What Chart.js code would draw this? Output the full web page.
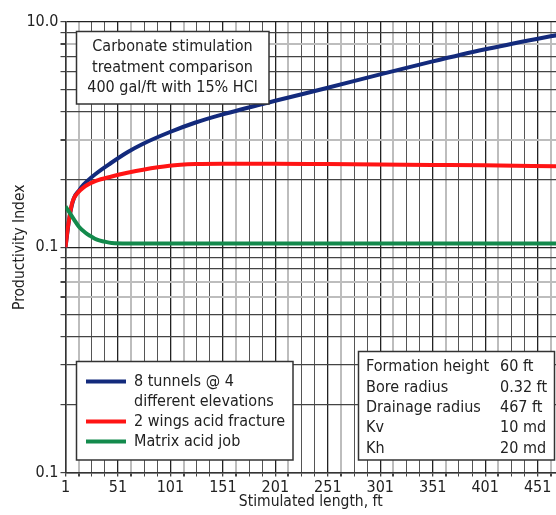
<!DOCTYPE html>
<html>
<head>
<meta charset="utf-8">
<script src="https://cdn.jsdelivr.net/npm/chart.js@4.4.1/dist/chart.umd.min.js"></script>
<style>
  html, body { margin: 0; padding: 0; background: #fff; }
  #wrap { width: 556px; height: 515px; position: relative; }
</style>
</head>
<body>
<div id="wrap"><canvas id="mychart" width="556" height="515"></canvas></div>
<script>
// stimulated length (ft) and productivity index
const tunnelX = [1, 5, 9, 14, 18, 30, 44, 60, 75, 100, 125, 150, 200, 250, 300, 350, 400, 450, 470];
const tunnelY = [1.0, 1.38, 1.65, 1.79, 1.89, 2.12, 2.36, 2.64, 2.88, 3.24, 3.58, 3.88, 4.46, 5.09, 5.84, 6.67, 7.55, 8.41, 8.75];

const fracX = [1, 3, 5, 7, 9, 12, 15, 20, 30, 45, 60, 75, 100, 125, 150, 200, 250, 300, 350, 400, 470];
const fracY = [1.0, 1.2, 1.38, 1.55, 1.65, 1.73, 1.79, 1.87, 1.97, 2.06, 2.14, 2.21, 2.3, 2.34, 2.35, 2.35, 2.34, 2.33, 2.32, 2.31, 2.29];

const matrixX = [1, 5, 9, 14, 20, 25, 31, 38, 45, 60, 100, 200, 300, 400, 470];
const matrixY = [1.52, 1.42, 1.33, 1.23, 1.16, 1.12, 1.08, 1.06, 1.045, 1.04, 1.04, 1.04, 1.04, 1.04, 1.04];

const seriesNames = [['8 tunnels @ 4', 'different elevations'], ['2 wings acid fracture'], ['Matrix acid job']];
const seriesColors = ['#132a7c', '#ff1414', '#138a4c'];

// tick labels as printed on the original (middle decade is printed 0.1)
const yTickValues = [0.1, 1, 10];
const yTickLabels = ['0.1', '0.1', '10.0'];
const yGridValues = [0.1, 0.2, 0.3, 0.4, 0.5, 0.6, 0.7, 0.8, 0.9, 1, 2, 3, 4, 5, 6, 7, 8, 9, 10];
const yGreyLines = [0.6, 0.7, 3, 8];
const xLabelEvery = 50;
const xMinorStep = 12.5;

const titleLines = ['Carbonate stimulation', 'treatment comparison', '400 gal/ft with 15% HCl'];
const infoNames = ['Formation height', 'Bore radius', 'Drainage radius', 'Kv', 'Kh'];
const infoValues = ['60 ft', '0.32 ft', '467 ft', '10 md', '20 md'];

const FONT = "'Liberation Sans Narrow', 'Arial Narrow', 'DejaVu Sans Condensed', sans-serif";
const xMin = 1, xMax = 468.5;

function pts(xs, ys) {
  return xs.map((x, i) => ({ x: x, y: ys[i] }));
}
function isIn(list, v) {
  return list.some((m) => Math.abs(m - v) < 1e-9);
}

// boxes: title, legend and formation data, drawn over the grid
const boxPlugin = {
  id: 'boxes',
  afterDatasetsDraw(chart) {
    const ctx = chart.ctx;
    ctx.save();
    function box(x, y, w, h) {
      ctx.fillStyle = '#fff';
      ctx.fillRect(x, y, w, h);
      ctx.strokeStyle = '#333';
      ctx.lineWidth = 1.5;
      ctx.strokeRect(x, y, w, h);
    }
    ctx.textBaseline = 'middle';

    box(76.5, 31.5, 192.5, 72.5);
    ctx.fillStyle = '#222';
    ctx.font = '16px ' + FONT;
    ctx.textAlign = 'center';
    titleLines.forEach((t, i) => ctx.fillText(t, 172.5, 47 + i * 20.5));

    box(76.5, 361.5, 216.5, 98.5);
    let ly = 381.5;
    seriesNames.forEach((lines, i) => {
      ctx.strokeStyle = seriesColors[i];
      ctx.lineWidth = 4;
      ctx.beginPath();
      ctx.moveTo(86, ly);
      ctx.lineTo(126, ly);
      ctx.stroke();
      ctx.fillStyle = '#222';
      ctx.textAlign = 'left';
      lines.forEach((t) => {
        ctx.fillText(t, 134, ly + 0.5);
        ly += 20;
      });
    });

    box(358.5, 351.5, 196, 108.5);
    ctx.fillStyle = '#222';
    ctx.textAlign = 'left';
    infoNames.forEach((t, i) => {
      ctx.fillText(t, 366, 367 + i * 20.4);
      ctx.fillText(infoValues[i], 500, 367 + i * 20.4);
    });
    ctx.restore();
  }
};

const data = {
  datasets: [
    { label: seriesNames[0].join(' '), data: pts(tunnelX, tunnelY), borderColor: seriesColors[0], order: 3 },
    { label: seriesNames[1][0], data: pts(fracX, fracY), borderColor: seriesColors[1], order: 2 },
    { label: seriesNames[2][0], data: pts(matrixX, matrixY), borderColor: seriesColors[2], order: 1 }
  ]
};

const options = {
  responsive: false,
  animation: false,
  layout: { padding: { top: 22, right: 0, left: 0, bottom: 0 } },
  elements: {
    line: { borderWidth: 4, cubicInterpolationMode: 'monotone', fill: false },
    point: { radius: 0 }
  },
  scales: {
    x: {
      type: 'linear',
      min: xMin,
      max: xMax,
      afterBuildTicks(scale) {
        const t = [];
        for (let v = xMin; v <= xMax; v += xMinorStep) t.push({ value: v });
        scale.ticks = t;
      },
      afterFit(scale) { scale.height = 42.5; },
      grid: {
        color(c) {
          const k = Math.round((c.tick.value - xMin) / xMinorStep) % 4;
          return k === 1 ? '#bdbdbd' : (k === 0 ? '#222' : '#555');
        },
        lineWidth(c) {
          const k = Math.round((c.tick.value - xMin) / xMinorStep) % 4;
          return k === 1 ? 2 : (k === 0 ? 1.3 : 1);
        },
        tickLength: 4,
        tickColor: '#444'
      },
      border: { color: '#333', width: 1.5 },
      ticks: {
        autoSkip: false,
        maxRotation: 0,
        padding: 2,
        color: '#222',
        font: { family: FONT, size: 16 },
        callback(v) {
          return (Math.round(v - xMin) % xLabelEvery === 0) ? String(Math.round(v)) : '';
        }
      },
      title: {
        display: true,
        text: 'Stimulated length, ft',
        color: '#222',
        font: { family: FONT, size: 15.5 },
        padding: { top: 0, bottom: 4 }
      }
    },
    y: {
      type: 'logarithmic',
      min: 0.1,
      max: 10,
      afterBuildTicks(scale) {
        scale.ticks = yGridValues.map((v) => ({ value: v, major: isIn(yTickValues, v) }));
      },
      afterFit(scale) { scale.width = 65.5; },
      grid: {
        color(c) {
          const v = c.tick.value;
          if (isIn(yTickValues, v)) return '#222';
          if (isIn(yGreyLines, v)) return '#bdbdbd';
          return '#444';
        },
        lineWidth(c) {
          return isIn(yGreyLines, c.tick.value) ? 2 : 1.2;
        },
        tickLength: 5,
        tickColor: '#444'
      },
      border: { color: '#333', width: 1.5 },
      ticks: {
        autoSkip: false,
        padding: 2,
        color: '#222',
        font: { family: FONT, size: 16 },
        callback(v) {
          const i = yTickValues.findIndex((m) => Math.abs(m - v) < 1e-9);
          return i >= 0 ? yTickLabels[i] : '';
        }
      },
      title: {
        display: true,
        text: 'Productivity Index',
        color: '#222',
        font: { family: FONT, size: 15.5 },
        padding: { top: 11, bottom: 0 }
      }
    }
  },
  plugins: {
    legend: { display: false },
    tooltip: { enabled: false }
  }
};

new Chart(document.getElementById('mychart'), {
  type: 'line',
  data: data,
  options: options,
  plugins: [boxPlugin]
});
</script>
</body>
</html>
